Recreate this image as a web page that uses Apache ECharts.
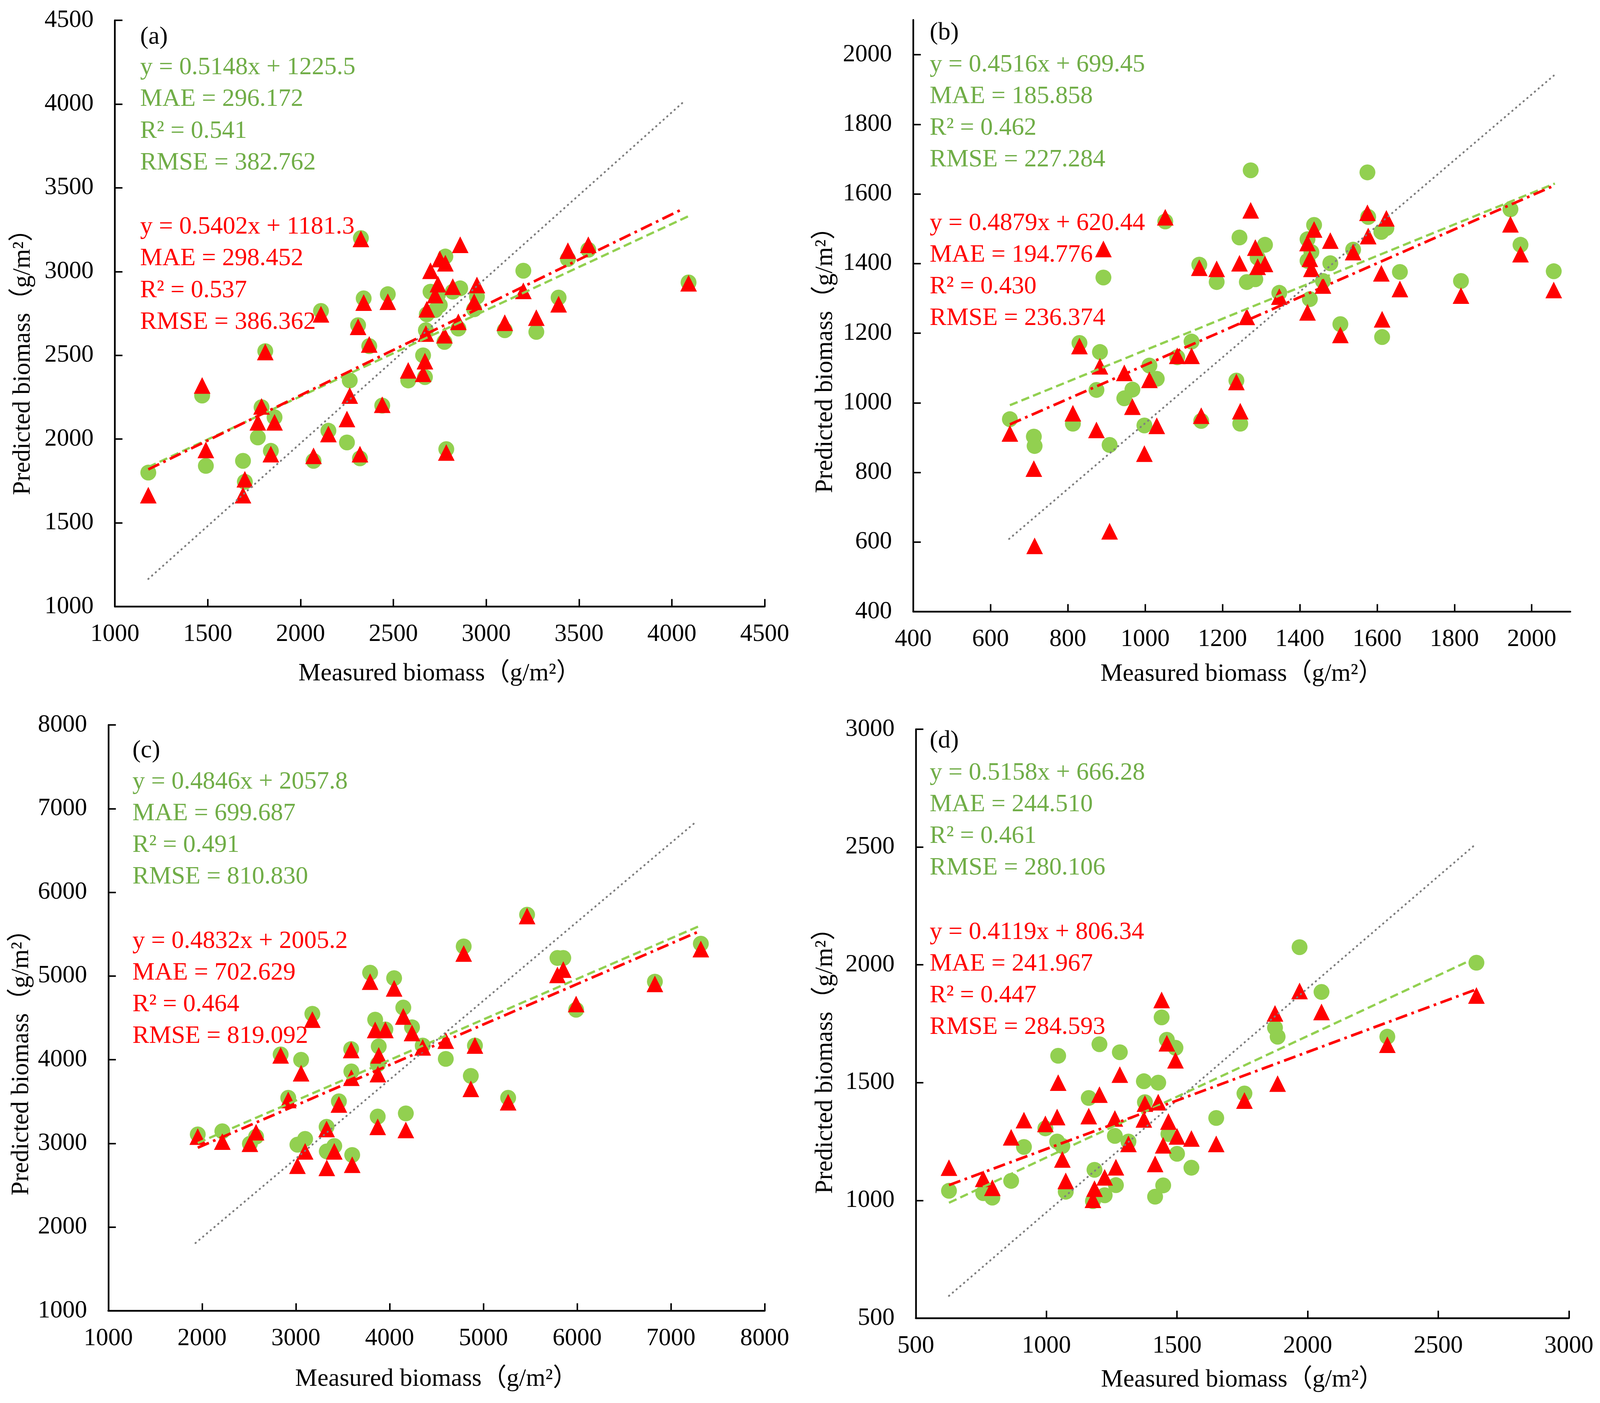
<!DOCTYPE html>
<html>
<head>
<meta charset="utf-8">
<title>Measured vs predicted biomass</title>
<script src="https://cdn.jsdelivr.net/npm/echarts@6/dist/echarts.min.js"></script>
<style>
  html, body { margin: 0; padding: 0; background: #fff; overflow: hidden; }
  #main { width: 100vw; height: 100vh; }
</style>
</head>
<body>
<div id="main"></div>
<script type="text/javascript">
var FONT = "'Liberation Serif', 'Times New Roman', 'Noto Sans CJK SC', serif";
var GREEN = '#92D050', GREEN_TEXT = '#70AD47', RED = '#FF0000', GREY = '#7F7F7F';
var X_TITLE = 'Measured biomass（g/m²）';
var Y_TITLE = 'Predicted biomass（g/m²）';

// ---- panel (a) ----
var aMeasured = [1180, 1470, 1490, 1690, 1700, 1770, 1790, 1810, 1840, 1860, 2070, 2110, 2150, 2250, 2265,
  2310, 2320, 2325, 2340, 2370, 2440, 2470, 2580, 2660, 2670, 2675, 2680, 2700, 2725, 2740, 2750, 2780,
  2775, 2785, 2820, 2860, 2850, 2950, 2935, 3100, 3200, 3270, 3390, 3440, 3550, 4090];
var aGreen = [1800, 2260, 1840, 1870, 1745, 2010, 2190, 2525, 1930, 2130, 1870, 2765, 2050, 1980, 2350,
  2680, 1885, 3200, 2840, 2555, 2200, 2865, 2350, 2500, 2370, 2650, 2745, 2880, 2770, 2860, 2800, 3090,
  2580, 1940, 2880, 2900, 2660, 2850, 2775, 2650, 3005, 2640, 2845, 3075, 3130, 2935];
var aRed = [1665, 2320, 1935, 1665, 1760, 2100, 2195, 2520, 1910, 2100, 1900, 2745, 2030, 2120, 2260,
  2670, 1910, 3195, 2815, 2565, 2205, 2820, 2410, 2390, 2465, 2630, 2775, 3005, 2860, 2925, 3075, 3050,
  2620, 1920, 2910, 3160, 2700, 2920, 2820, 2695, 2885, 2725, 2805, 3125, 3160, 2930];
var aOneToOne = [[1180, 1165], [4070, 4020]];
var aGreenFit = [[1180, 1833], [4090, 3331]];
var aRedFit = [[1180, 1819], [4050, 3369]];
var aGreenStats = ['y = 0.5148x + 1225.5', 'MAE = 296.172', 'R² = 0.541', 'RMSE = 382.762'];
var aRedStats = ['y = 0.5402x + 1181.3', 'MAE = 298.452', 'R² = 0.537', 'RMSE = 386.362'];

// ---- panel (b) ----
var bMeasured = [650, 712, 714, 830, 813, 883, 874, 892, 908, 946, 967, 1011, 1030, 998, 1052, 1083,
  1120, 1140, 1145, 1185, 1244, 1236, 1246, 1273, 1263, 1285, 1291, 1310, 1347, 1420, 1420, 1426, 1437,
  1430, 1460, 1479, 1505, 1538, 1575, 1577, 1611, 1624, 1613, 1659, 1817, 1945, 1971, 2057];
var bGreen = [953, 903, 876, 1172, 940, 1146, 1037, 1360, 879, 1013, 1038, 1107, 1069, 935, 1521, 1131,
  1176, 1397, 948, 1347, 1475, 1064, 940, 1668, 1347, 1355, 1417, 1454, 1316, 1470, 1408, 1298, 1511,
  1433, 1350, 1401, 1226, 1440, 1662, 1534, 1491, 1502, 1189, 1376, 1350, 1556, 1454, 1378];
var bRed = [912, 811, 589, 1163, 970, 1105, 922, 1442, 631, 1086, 989, 1066, 934, 854, 1533, 1135,
  1135, 1388, 963, 1385, 1401, 1060, 976, 1553, 1247, 1446, 1391, 1399, 1305, 1459, 1260, 1414, 1498,
  1385, 1337, 1466, 1195, 1433, 1546, 1479, 1372, 1530, 1240, 1327, 1308, 1513, 1427, 1324];
var bOneToOne = [[648, 609], [2057, 1940]];
var bGreenFit = [[650, 993], [2060, 1630]];
var bRedFit = [[650, 938], [2060, 1625]];
var bGreenStats = ['y = 0.4516x + 699.45', 'MAE = 185.858', 'R² = 0.462', 'RMSE = 227.284'];
var bRedStats = ['y = 0.4879x + 620.44', 'MAE = 194.776', 'R² = 0.430', 'RMSE = 236.374'];

// ---- panel (c) ----
var cMeasured = [1954, 2216, 2510, 2576, 2838, 2919, 3056, 3017, 3099, 3176, 3328, 3330, 3410, 3459,
  3601, 3590, 3592, 3792, 3846, 3884, 3873, 3875, 4048, 4146, 3955, 4239, 4173, 4353, 4599, 4790, 4910,
  4866, 5264, 5466, 5790, 5852, 5989, 6829, 7319];
var cGreen = [3108, 3145, 2996, 3081, 4063, 3545, 3999, 2985, 3054, 4549, 3199, 2905, 2969, 3503,
  2862, 4127, 3860, 5040, 4479, 4159, 3321, 3946, 4975, 4623, 4362, 4388, 3359, 4170, 4010, 5354, 4170,
  3807, 3545, 5733, 5216, 5216, 4597, 4933, 5386];
var cRed = [3081, 3022, 2996, 3134, 4052, 3519, 3839, 2734, 2905, 4479, 3172, 2708, 2905, 3465,
  2745, 4116, 3785, 4933, 4356, 4052, 3198, 3828, 4853, 4517, 4356, 4319, 3161, 4148, 4228, 5269, 4170,
  3652, 3492, 5717, 5013, 5077, 4666, 4906, 5322];
var cOneToOne = [[1930, 1810], [7265, 6840]];
var cGreenFit = [[1954, 3005], [7319, 5605]];
var cRedFit = [[1954, 2949], [7319, 5542]];
var cGreenStats = ['y = 0.4846x + 2057.8', 'MAE = 699.687', 'R² = 0.491', 'RMSE = 810.830'];
var cRedStats = ['y = 0.4832x + 2005.2', 'MAE = 702.629', 'R² = 0.464', 'RMSE = 819.092'];

// ---- panel (d) ----
var dMeasured = [627, 758, 793, 865, 914, 996, 1045, 1041, 1061, 1074, 1162, 1184, 1178, 1203, 1223,
  1262, 1266, 1281, 1314, 1373, 1377, 1428, 1416, 1441, 1447, 1461, 1494, 1467, 1500, 1555, 1650, 1758,
  1875, 1885, 1969, 2053, 2305, 2646];
var dGreen = [1041, 1031, 1012, 1083, 1227, 1306, 1614, 1250, 1231, 1037, 1435, 1130, 997, 1663, 1022,
  1274, 1065, 1629, 1250, 1506, 1417, 1500, 1016, 1777, 1064, 1682, 1648, 1282, 1198, 1139, 1350, 1454,
  1733, 1695, 2075, 1885, 1695, 2009];
var dRed = [1139, 1092, 1054, 1268, 1341, 1325, 1500, 1354, 1174, 1083, 1358, 1050, 1003, 1449, 1098,
  1348, 1141, 1534, 1240, 1344, 1411, 1417, 1155, 1851, 1234, 1667, 1595, 1335, 1272, 1263, 1240, 1424,
  1794, 1496, 1889, 1800, 1661, 1870];
var dOneToOne = [[627, 595], [2639, 2508]];
var dGreenFit = [[627, 990], [2646, 2031]];
var dRedFit = [[627, 1065], [2646, 1896]];
var dGreenStats = ['y = 0.5158x + 666.28', 'MAE = 244.510', 'R² = 0.461', 'RMSE = 280.106'];
var dRedStats = ['y = 0.4119x + 806.34', 'MAE = 241.967', 'R² = 0.447', 'RMSE = 284.593'];

function pairs(xs, ys) {
  return xs.map(function (x, i) { return [x, ys[i]]; });
}

// layout measured on the 4373 x 3592 reference, scaled to the real page size
var myChart = echarts.init(document.getElementById('main'));
var W = myChart.getWidth(), H = myChart.getHeight();
var sx = W / 4373, sy = H / 3592, s = (sx + sy) / 2;
var FS = 66 * s;

var panels = [
  { tag: '(a)', x: aMeasured, g: aGreen, r: aRed, one: aOneToOne, gFit: aGreenFit, rFit: aRedFit,
    gStats: aGreenStats, rStats: aRedStats,
    box: [314, 52, 1776, 1501], xr: [1000, 4500, 500], yr: [1000, 4500, 500], xGap: 140,
    yTitle: [63, 911], tx: 383, tagY: 95, gY: 173, step: 81.5, rY: 581 },
  { tag: '(b)', x: bMeasured, g: bGreen, r: bRed, one: bOneToOne, gFit: bGreenFit, rFit: bRedFit,
    gStats: bGreenStats, rStats: bRedStats,
    box: [2496, 51, 1796, 1515], xr: [400, 2100, 200], yr: [400, 2100, 200], xGap: 128,
    yTitle: [2256, 906], tx: 2541, tagY: 84, gY: 166, step: 81, rY: 572 },
  { tag: '(c)', x: cMeasured, g: cGreen, r: cRed, one: cOneToOne, gFit: cGreenFit, rFit: cRedFit,
    gStats: cGreenStats, rStats: cRedStats,
    box: [296, 1856, 1794, 1500], xr: [1000, 8000, 1000], yr: [1000, 8000, 1000], xGap: 143,
    yTitle: [59, 2704], tx: 362, tagY: 1922, gY: 2002, step: 81, rY: 2410 },
  { tag: '(d)', x: dMeasured, g: dGreen, r: dRed, one: dOneToOne, gFit: dGreenFit, rFit: dRedFit,
    gStats: dGreenStats, rStats: dRedStats,
    box: [2503, 1867, 1785, 1508], xr: [500, 3000, 500], yr: [500, 3000, 500], xGap: 126,
    yTitle: [2256, 2700], tx: 2541, tagY: 1897, gY: 1979, step: 81, rY: 2387 }
];

var grids = [], xAxes = [], yAxes = [], series = [], graphics = [];

function axisBase(range) {
  var hideMax = range[1] % range[2] !== 0;
  return {
    type: 'value', min: range[0], max: range[1], interval: range[2],
    axisLine: { show: true, onZero: false, lineStyle: { color: '#000', width: 4.5 * s } },
    axisTick: { show: true, inside: true, length: 20 * s, lineStyle: { color: '#000', width: 4 * s } },
    axisLabel: { fontFamily: FONT, fontSize: 65 * s, color: '#000', showMaxLabel: !hideMax,
      formatter: function (v) { return String(v); } },
    splitLine: { show: false }
  };
}

function text(x, y, str, color, extra) {
  var el = { type: 'text', x: x, y: y, z: 10,
    style: { text: str, fontFamily: FONT, fontSize: FS, fill: color, align: 'left', verticalAlign: 'middle' } };
  if (extra) { for (var k in extra) { el[k] = extra[k]; } }
  return el;
}

panels.forEach(function (p, i) {
  grids.push({ left: p.box[0] * sx, top: p.box[1] * sy, width: p.box[2] * sx, height: p.box[3] * sy });

  var xa = axisBase(p.xr);
  xa.gridIndex = i;
  xa.name = X_TITLE;
  xa.nameLocation = 'middle';
  xa.nameGap = p.xGap * sy;
  xa.nameTextStyle = { fontFamily: FONT, fontSize: FS, color: '#000' };
  xa.axisLabel.margin = 40 * sy;
  xAxes.push(xa);

  var ya = axisBase(p.yr);
  ya.gridIndex = i;
  ya.axisLabel.margin = 58 * sx;
  yAxes.push(ya);

  series.push({
    type: 'scatter', xAxisIndex: i, yAxisIndex: i, symbol: 'circle', symbolSize: 42 * s,
    itemStyle: { color: GREEN, opacity: 1 }, data: pairs(p.x, p.g), z: 2
  });
  series.push({
    type: 'scatter', xAxisIndex: i, yAxisIndex: i, symbol: 'triangle', symbolSize: 44 * s,
    itemStyle: { color: RED, opacity: 1 }, data: pairs(p.x, p.r), z: 3
  });
  series.push({
    type: 'line', xAxisIndex: i, yAxisIndex: i, showSymbol: false, silent: true, z: 4,
    lineStyle: { color: GREY, width: 5 * s, type: [1, 12 * s], cap: 'round' }, data: p.one
  });
  series.push({
    type: 'line', xAxisIndex: i, yAxisIndex: i, showSymbol: false, silent: true, z: 5,
    lineStyle: { color: GREEN, width: 6 * s, type: [22 * s, 11 * s] }, data: p.gFit
  });
  series.push({
    type: 'line', xAxisIndex: i, yAxisIndex: i, showSymbol: false, silent: true, z: 6,
    lineStyle: { color: RED, width: 7 * s, type: [32 * s, 12 * s, 7 * s, 12 * s] }, data: p.rFit
  });

  // rotated y-axis title
  var yt = text(p.yTitle[0] * sx, p.yTitle[1] * sy, Y_TITLE, '#000', { rotation: Math.PI / 2 });
  yt.style.align = 'center';
  graphics.push(yt);

  graphics.push(text(p.tx * sx, p.tagY * sy, p.tag, '#000'));
  p.gStats.forEach(function (t, k) {
    graphics.push(text(p.tx * sx, (p.gY + k * p.step) * sy, t, GREEN_TEXT));
  });
  p.rStats.forEach(function (t, k) {
    graphics.push(text(p.tx * sx, (p.rY + k * p.step) * sy, t, RED));
  });
});

myChart.setOption({
  backgroundColor: '#fff',
  animation: false,
  grid: grids,
  xAxis: xAxes,
  yAxis: yAxes,
  series: series,
  graphic: graphics
});
</script>
</body>
</html>
